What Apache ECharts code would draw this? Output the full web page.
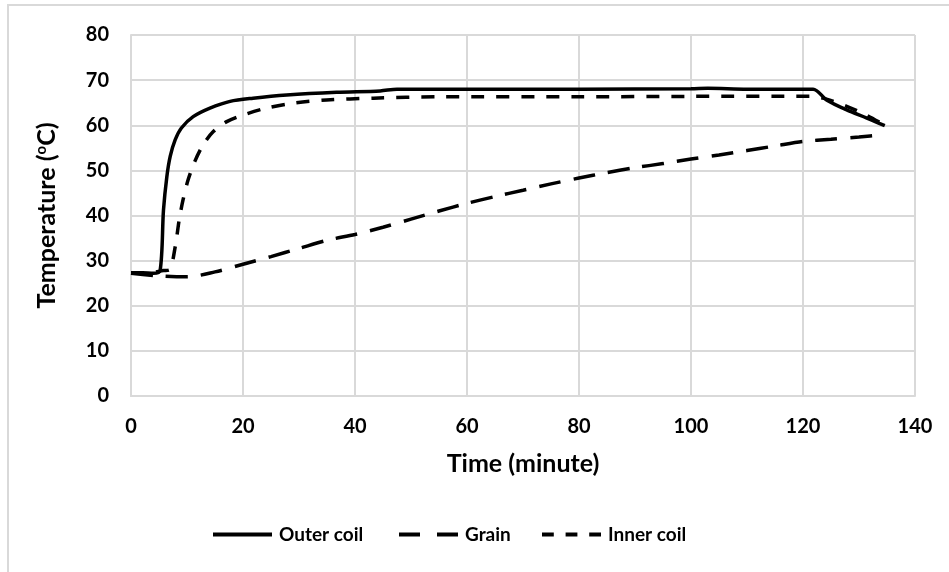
<!DOCTYPE html>
<html>
<head>
<meta charset="utf-8">
<script src="https://cdn.jsdelivr.net/npm/echarts@6/dist/echarts.min.js"></script>
<style>
  html, body { margin: 0; padding: 0; background: #fff; }
  #chart { width: 949px; height: 572px; }
</style>
</head>
<body>
<div id="chart"></div>
<script>
// Outer coil (time in minutes, temperature in °C)
const outerTime = [0, 2, 4, 5.2, 5.8, 6.4, 7.0, 7.9, 9.0, 11.1, 14.1, 17.7, 21.8, 27.8, 36.7, 44.5, 47.5, 60, 80, 100, 103, 110, 121.8, 124.2, 127.8, 131.4, 134.6]
const outerTemp = [27.3, 27.3, 27.2, 27.8, 41.2, 48.6, 53.1, 56.8, 59.4, 61.9, 63.8, 65.3, 66.0, 66.7, 67.3, 67.6, 68.0, 68.0, 68.0, 68.1, 68.2, 68.0, 68.0, 65.6, 63.4, 61.6, 59.9]

// Grain
const grainTime = [0, 5, 10, 15, 20, 25, 30, 35, 40, 45, 50, 55, 60, 65, 70, 75, 80, 85, 90, 95, 100, 105, 110, 115, 120, 125, 130, 134.6]
const grainTemp = [27.2, 26.6, 26.4, 27.5, 29.2, 30.9, 32.7, 34.5, 35.8, 37.4, 39.2, 41.0, 42.7, 44.2, 45.6, 47.0, 48.3, 49.5, 50.6, 51.5, 52.5, 53.4, 54.4, 55.4, 56.4, 56.9, 57.4, 57.9]

// Inner coil
const innerTime = [0, 3, 5.8, 6.9, 7.9, 8.6, 9.3, 10.2, 11.4, 12.9, 14.7, 17.1, 20.1, 24.2, 29.0, 34.9, 43.3, 55, 80, 100, 121.4, 124.2, 127.8, 131.4, 134.6]
const innerTemp = [27.3, 27.3, 27.8, 28.0, 33.1, 39.0, 43.5, 47.9, 52.0, 55.7, 58.6, 60.8, 62.3, 63.8, 64.9, 65.6, 66.0, 66.3, 66.3, 66.4, 66.4, 65.8, 64.2, 62.2, 60.0]

const seriesNames = ['Outer coil', 'Grain', 'Inner coil']
const xTicks = [0, 20, 40, 60, 80, 100, 120, 140]
const yTicks = [0, 10, 20, 30, 40, 50, 60, 70, 80]

const zip = (xs, ys) => xs.map((x, i) => [x, ys[i]])

const chart = echarts.init(document.getElementById('chart'))
const font = 'Lato, "Open Sans", sans-serif'

// 图例：每个系列单独一个，线型用 path 画
const legendIcons = [
  'path://M0,0h59v4h-59z',
  'path://M0,0h21v4h-21z M38,0h21v4h-21z',
  'path://M0,0h12v4h-12z M24,0h12v4h-12z M48,0h12v4h-12z'
]
const legendLeft = [213, 399, 542]
const legends = seriesNames.map((name, i) => ({
  data: [{ name: name, icon: legendIcons[i] }],
  left: legendLeft[i],
  top: 525,
  padding: 0,
  itemWidth: 59,
  itemHeight: 4,
  selectedMode: false,
  textStyle: { fontFamily: font, fontSize: 19, fontWeight: 'bold', color: '#000', padding: [0, 0, 0, 2] }
}))

const option = {
  animation: false,
  textStyle: { fontFamily: font },
  graphic: [{
    type: 'rect',
    shape: { x: 8, y: 5, width: 1000, height: 1000 },
    style: { fill: 'none', stroke: '#d9d9d9', lineWidth: 2 },
    silent: true
  }],
  grid: { left: 131, right: 34, top: 35, bottom: 176 },
  legend: legends,
  xAxis: {
    type: 'value',
    min: xTicks[0],
    max: xTicks[xTicks.length - 1],
    interval: 20,
    name: 'Time (minute)',
    nameLocation: 'middle',
    nameGap: 55,
    nameTextStyle: { fontFamily: font, fontSize: 25, fontWeight: 'bold', color: '#000' },
    axisLine: { lineStyle: { color: '#d9d9d9', width: 2 } },
    axisTick: { show: false },
    axisLabel: { margin: 21, fontFamily: font, fontSize: 20, fontWeight: 'bold', color: '#000' },
    splitLine: { show: true, lineStyle: { color: '#d9d9d9', width: 2 } }
  },
  yAxis: {
    type: 'value',
    min: yTicks[0],
    max: yTicks[yTicks.length - 1],
    interval: 10,
    name: 'Temperature ({sup|o}C)',
    nameLocation: 'middle',
    nameGap: 72,
    nameTextStyle: {
      fontFamily: font, fontSize: 25, fontWeight: 'bold', color: '#000',
      rich: { sup: { fontFamily: font, fontSize: 15, fontWeight: 'bold', color: '#000', verticalAlign: 'top', padding: [0, 0, 10, 0] } }
    },
    axisLine: { show: true, lineStyle: { color: '#d9d9d9', width: 2 } },
    axisTick: { show: false },
    axisLabel: { margin: 22, fontFamily: font, fontSize: 20, fontWeight: 'bold', color: '#000' },
    splitLine: { show: true, lineStyle: { color: '#d9d9d9', width: 2 } }
  },
  series: [
    {
      name: seriesNames[0],
      type: 'line',
      data: zip(outerTime, outerTemp),
      smooth: 0.3,
      symbol: 'none',
      lineStyle: { color: '#000', width: 3.5, type: 'solid' },
      itemStyle: { color: '#000' },
      z: 3
    },
    {
      name: seriesNames[1],
      type: 'line',
      data: zip(grainTime, grainTemp),
      smooth: 0.3,
      symbol: 'none',
      lineStyle: { color: '#000', width: 3.5, type: [22, 13] },
      itemStyle: { color: '#000' },
      z: 2
    },
    {
      name: seriesNames[2],
      type: 'line',
      data: zip(innerTime, innerTemp),
      smooth: 0.3,
      symbol: 'none',
      lineStyle: { color: '#000', width: 3.5, type: [13, 12] },
      itemStyle: { color: '#000' },
      z: 2
    }
  ]
}

chart.setOption(option)
</script>
</body>
</html>
